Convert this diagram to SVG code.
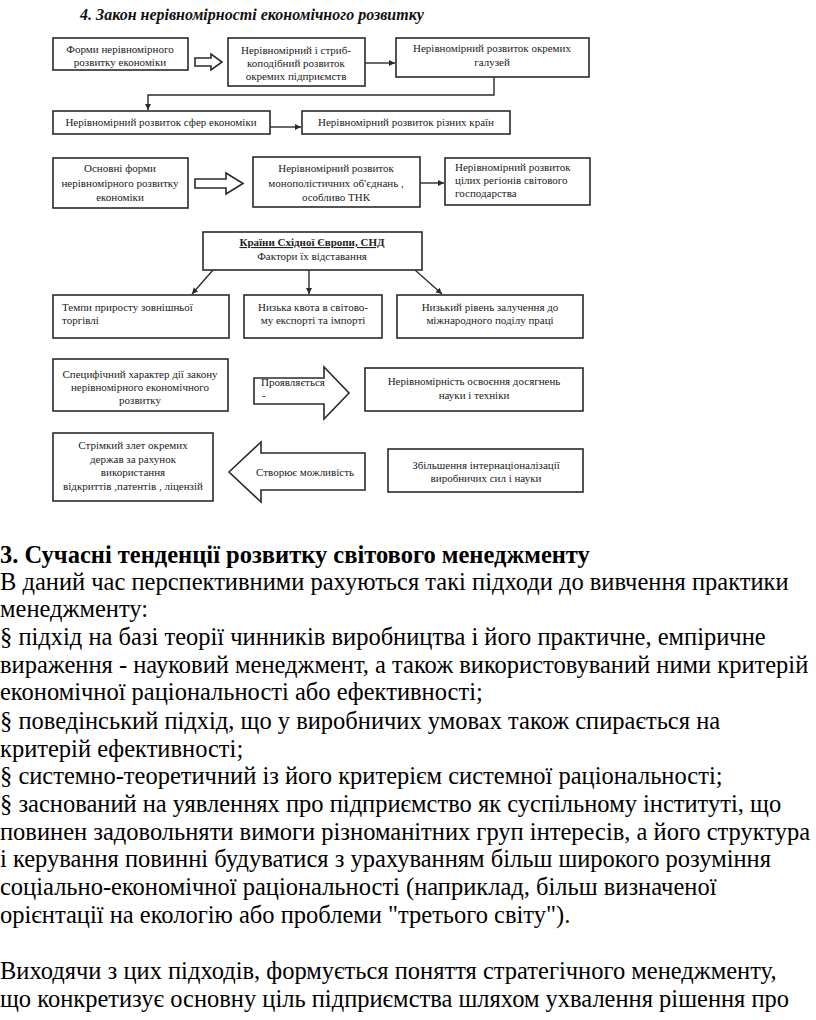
<svg xmlns="http://www.w3.org/2000/svg" width="816" height="1020" viewBox="0 0 816 1020">
<style>
.box{fill:#fff;stroke:#2a2a2a;stroke-width:1.6}
.t{font-family:"Liberation Serif",serif;font-size:11px;fill:#222}
.c{text-anchor:middle}
.title{font-family:"Liberation Serif",serif;font-size:16px;font-weight:bold;font-style:italic;fill:#111}
.body{font-family:"Liberation Serif",serif;font-size:24.5px;fill:#000}
.line{fill:none;stroke:#2a2a2a;stroke-width:1.4}
.hollow{fill:#fff;stroke:#2a2a2a;stroke-width:1.6}
</style>
<defs>
<marker id="ah" markerWidth="8" markerHeight="8" refX="6" refY="4" orient="auto" markerUnits="userSpaceOnUse">
<path d="M0,1 L6,4 L0,7 Z" fill="#2a2a2a"/>
</marker>
</defs>
<rect width="816" height="1020" fill="#fff"/>
<text class="title" x="80" y="20">4. Закон нерівномірності економічного розвитку</text>

<g id="connectors">
<polygon class="hollow" points="195,58 211,58 211,54 222,62 211,70 211,66 195,66"/>
<line class="line" x1="365" y1="63" x2="395" y2="63" marker-end="url(#ah)"/>
<polyline class="line" points="494,77 494,95 148,95 148,110" marker-end="url(#ah)"/>
<line class="line" x1="270" y1="127" x2="301" y2="127" marker-end="url(#ah)"/>
<polygon class="hollow" points="195,179 226,179 226,173 243,183.5 226,194 226,188 195,188"/>
<line class="line" x1="420" y1="183" x2="444" y2="183" marker-end="url(#ah)"/>
<line class="line" x1="213" y1="270" x2="192" y2="294" marker-end="url(#ah)"/>
<line class="line" x1="309" y1="270" x2="309" y2="294" marker-end="url(#ah)"/>
<line class="line" x1="415" y1="270" x2="442" y2="294" marker-end="url(#ah)"/>
<polygon class="hollow" points="254,378 324,378 324,367 349,393 324,419 324,404 254,404"/>
<polygon class="hollow" points="229,472 261,442 261,453 365,453 365,490 261,490 261,502"/>
</g>

<g id="n1"><rect class="box" x="53" y="38" width="135" height="32"/>
<text class="t c" x="120" y="53">Форми нерівномірного</text>
<text class="t c" x="120" y="66">розвитку економіки</text></g>

<g id="n2"><rect class="box" x="228" y="38" width="137" height="48"/>
<text class="t c" x="296" y="54">Нерівномірний і стриб-</text>
<text class="t c" x="296" y="67">коподібний розвиток</text>
<text class="t c" x="296" y="80">окремих підприємств</text></g>

<g id="n3"><rect class="box" x="396" y="38" width="193" height="39"/>
<text class="t c" x="492" y="52">Нерівномірний розвиток окремих</text>
<text class="t c" x="492" y="66">галузей</text></g>

<g id="n5"><rect class="box" x="53" y="111" width="217" height="23"/>
<text class="t c" x="161" y="126">Нерівномірний розвиток сфер економіки</text></g>

<g id="n6"><rect class="box" x="302" y="111" width="208" height="23"/>
<text class="t c" x="406" y="126">Нерівномірний розвиток різних країн</text></g>

<g id="n7"><rect class="box" x="53" y="158" width="135" height="50"/>
<text class="t c" x="120" y="172">Основні форми</text>
<text class="t c" x="120" y="187">нерівномірного розвитку</text>
<text class="t c" x="120" y="201">економіки</text></g>

<g id="n8"><rect class="box" x="253" y="157" width="167" height="50"/>
<text class="t c" x="336" y="172">Нерівномірний розвиток</text>
<text class="t c" x="336" y="187">монополістичних об'єднань ,</text>
<text class="t c" x="336" y="201">особливо ТНК</text></g>

<g id="n9"><rect class="box" x="445" y="158" width="145" height="47"/>
<text class="t" x="455" y="171">Нерівномірний розвиток</text>
<text class="t" x="455" y="184">цілих регіонів світового</text>
<text class="t" x="455" y="197">господарства</text></g>

<g id="n10"><rect class="box" x="203" y="232" width="219" height="38"/>
<text class="t c" x="312" y="246" font-weight="bold" text-decoration="underline">Країни Східної Європи, СНД</text>
<text class="t c" x="312" y="260">Фактори їх відставання</text></g>

<g id="n11"><rect class="box" x="53" y="295" width="176" height="43"/>
<text class="t" x="62" y="311">Темпи приросту зовнішньої</text>
<text class="t" x="62" y="324">торгівлі</text></g>

<g id="n12"><rect class="box" x="244" y="295" width="138" height="43"/>
<text class="t c" x="313" y="311">Низька квота в світово-</text>
<text class="t c" x="313" y="324">му експорті та імпорті</text></g>

<g id="n13"><rect class="box" x="397" y="295" width="186" height="43"/>
<text class="t c" x="490" y="311">Низький рівень залучення до</text>
<text class="t c" x="490" y="324">міжнародного поділу праці</text></g>

<g id="n14"><rect class="box" x="53" y="359" width="175" height="52"/>
<text class="t c" x="140" y="378">Специфічний характер дії закону</text>
<text class="t c" x="140" y="391">нерівномірного економічного</text>
<text class="t c" x="140" y="404">розвитку</text></g>

<g id="n15"><text class="t" x="261" y="386">Проявляється</text>
<text class="t" x="262" y="399">-</text></g>

<g id="n16"><rect class="box" x="365" y="368" width="218" height="43"/>
<text class="t c" x="474" y="385">Нерівномірність освоєння досягнень</text>
<text class="t c" x="474" y="399">науки і техніки</text></g>

<g id="n17"><rect class="box" x="53" y="433" width="160" height="68"/>
<text class="t c" x="133" y="449">Стрімкий злет окремих</text>
<text class="t c" x="133" y="463">держав за рахунок</text>
<text class="t c" x="133" y="476">використання</text>
<text class="t c" x="133" y="490">відкриттів ,патентів , ліцензій</text></g>

<g id="n18"><text class="t c" x="305" y="476">Створює можливість</text></g>

<g id="n19"><rect class="box" x="388" y="449" width="195" height="43"/>
<text class="t c" x="486" y="469">Збільшення інтернаціоналізації</text>
<text class="t c" x="486" y="482">виробничих сил і науки</text></g>

<g id="body">
<text class="body" x="0" y="563" font-weight="bold">3. Сучасні тенденції розвитку світового менеджменту</text>
<text class="body" x="0" y="590">В даний час перспективними рахуються такі підходи до вивчення практики</text>
<text class="body" x="0" y="617">менеджменту:</text>
<text class="body" x="0" y="645">§ підхід на базі теорії чинників виробництва і його практичне, емпіричне</text>
<text class="body" x="0" y="673">вираження - науковий менеджмент, а також використовуваний ними критерій</text>
<text class="body" x="0" y="700">економічної раціональності або ефективності;</text>
<text class="body" x="0" y="729">§ поведінський підхід, що у виробничих умовах також спирається на</text>
<text class="body" x="0" y="757">критерій ефективності;</text>
<text class="body" x="0" y="784">§ системно-теоретичний із його критерієм системної раціональності;</text>
<text class="body" x="0" y="812">§ заснований на уявленнях про підприємство як суспільному інституті, що</text>
<text class="body" x="0" y="840">повинен задовольняти вимоги різноманітних груп інтересів, а його структура</text>
<text class="body" x="0" y="867">і керування повинні будуватися з урахуванням більш широкого розуміння</text>
<text class="body" x="0" y="895">соціально-економічної раціональності (наприклад, більш визначеної</text>
<text class="body" x="0" y="923">орієнтації на екологію або проблеми "третього світу").</text>
<text class="body" x="0" y="979">Виходячи з цих підходів, формується поняття стратегічного менеджменту,</text>
<text class="body" x="0" y="1007">що конкретизує основну ціль підприємства шляхом ухвалення рішення про</text>
</g>
</svg>
